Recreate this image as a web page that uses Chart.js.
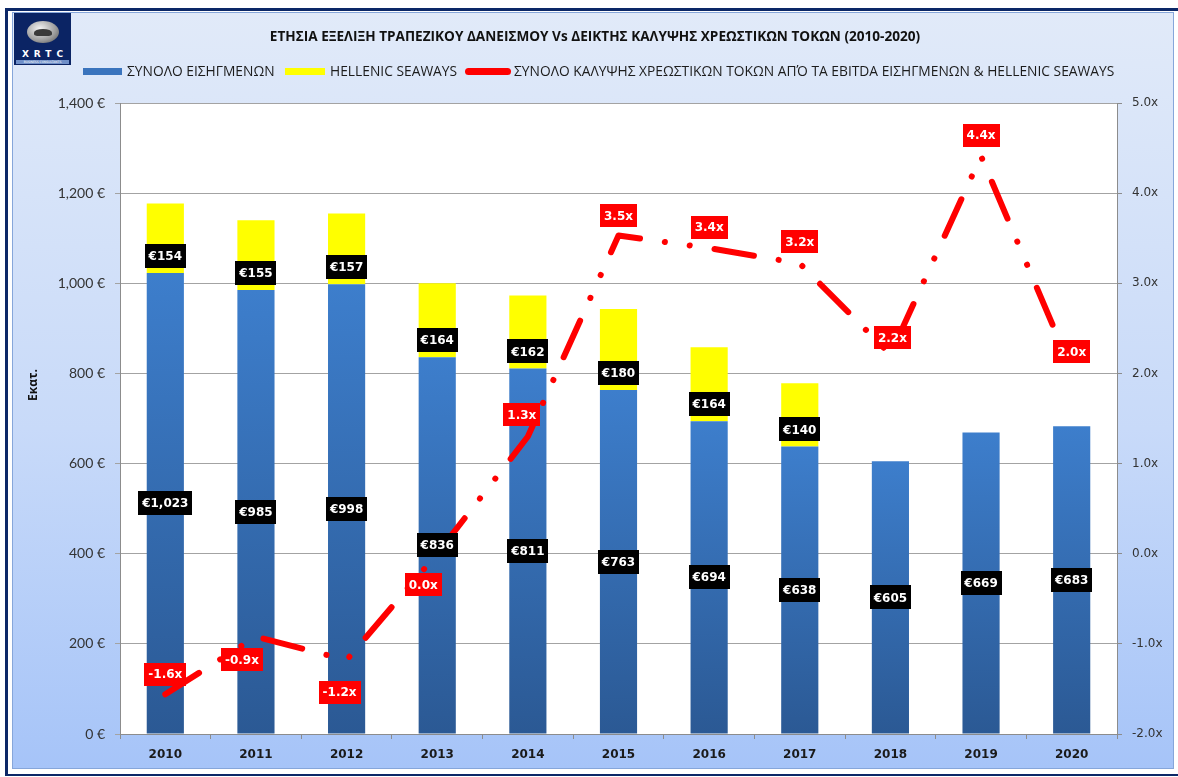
<!DOCTYPE html>
<html>
<head>
<meta charset="utf-8">
<script src="https://cdn.jsdelivr.net/npm/chart.js@4.4.1/dist/chart.umd.min.js"></script>
<style>
  body { margin: 0; width: 1178px; height: 777px; overflow: hidden; background: #fff; position: relative; font-family: "Open Sans", sans-serif; }
  #frame { position: absolute; left: 5px; top: 8px; width: 1173px; height: 768px; border-left: 3px solid #0c2867; border-top: 3px solid #0c2867; border-bottom: 2px solid #0c2867; box-sizing: border-box; }
  #panel { position: absolute; left: 12px; top: 12px; width: 1162px; height: 757px; border: 1px solid #86a6da; box-sizing: border-box;
           background: linear-gradient(#e1eaf9, #c8daf9 55%, #a6c4f8); }
  #chart { position: absolute; left: 0; top: 0; }
  #logo { position: absolute; left: 14px; top: 13px; width: 57px; height: 52px; background: #0b2464; }
  #logo .emb { position: absolute; left: 13px; top: 8px; width: 32px; height: 22px; border-radius: 50%;
               background: radial-gradient(ellipse at 40% 35%, #f4f4f4, #9a9a9a 60%, #4a4a4a); }
  #logo .emb:after { content: ""; position: absolute; left: 7px; top: 8px; width: 18px; height: 7px; border-radius: 50% 50% 30% 30%; background: #3a3a3a; }
  #logo .name { position: absolute; left: 0; top: 36px; width: 57px; text-align: center; color: #fff; font: bold 9px "DejaVu Sans", sans-serif; letter-spacing: 5px; text-indent: 5px; }
  #logo .sub { position: absolute; left: 2px; top: 47px; width: 53px; height: 4px; background: #6f8fc8; color: #fff; font: 3px "DejaVu Sans", sans-serif; text-align: center; line-height: 4px; overflow: hidden; }
  #title { position: absolute; left: 0; top: 26px; width: 1190px; text-align: center; font: bold 13.6px "Open Sans", sans-serif; color: #111; white-space: nowrap; }
  .leg { position: absolute; top: 61px; height: 20px; line-height: 20px; font: 13.8px "Open Sans", sans-serif; color: #1c1c1c; white-space: nowrap; }
  .sw { position: absolute; top: 68px; height: 7px; }
  #ytitle { position: absolute; left: 3px; top: 376px; width: 60px; height: 18px; line-height: 18px; text-align: center; font: bold 12px "Open Sans", sans-serif; color: #111; transform: rotate(-90deg); }
</style>
</head>
<body>
<div id="frame"></div>
<div id="panel"></div>
<canvas id="chart" width="1178" height="777"></canvas>
<div id="logo"><div class="emb"></div><div class="name">XRTC</div><div class="sub">BUSINESS CONSULTANTS</div></div>
<div id="title">ΕΤΗΣΙΑ ΕΞΕΛΙΞΗ ΤΡΑΠΕΖΙΚΟΥ ΔΑΝΕΙΣΜΟΥ Vs ΔΕΙΚΤΗΣ ΚΑΛΥΨΗΣ ΧΡΕΩΣΤΙΚΩΝ ΤΟΚΩΝ (2010-2020)</div>
<div class="sw" style="left:83px;width:39px;background:#3a74bd"></div>
<div class="leg" style="left:127px">ΣΥΝΟΛΟ ΕΙΣΗΓΜΕΝΩΝ</div>
<div class="sw" style="left:285px;width:40px;background:#ffff00"></div>
<div class="leg" style="left:330px">HELLENIC SEAWAYS</div>
<div class="sw" style="left:465px;width:46px;background:#ff0000;border-radius:4px"></div>
<div class="leg" style="left:514px">ΣΥΝΟΛΟ ΚΑΛΥΨΗΣ ΧΡΕΩΣΤΙΚΩΝ ΤΟΚΩΝ ΑΠΌ ΤΑ EBITDA ΕΙΣΗΓΜΕΝΩΝ &amp; HELLENIC SEAWAYS</div>
<div id="ytitle">Εκατ.</div>
<script>
  // values (EUR m, coverage ratio x)
  const years = ["2010", "2011", "2012", "2013", "2014", "2015", "2016", "2017", "2018", "2019", "2020"];
  const listedDebt = [1023, 985, 998, 836, 811, 763, 694, 638, 605, 669, 683];
  const hsDebt = [154, 155, 157, 164, 162, 180, 164, 140, null, null, null];
  const coverage = [-1.56, -0.92, -1.18, 0.0, 1.3, 3.53, 3.39, 3.22, 2.21, 4.41, 2.04];
  const leftTicks = [0, 200, 400, 600, 800, 1000, 1200, 1400];
  const rightTicks = [-2, -1, 0, 1, 2, 3, 4, 5];

  // where the red ratio labels sit relative to their point (px)
  const ratioLabelShift = [[0, -20], [-14, 23], [-7, 32], [-14, 31], [-6, -22], [0, -20], [0, -21], [0, -22], [2, -17], [0, -21], [0, -18]];

  const fmt = (v) => v.toLocaleString("en-US");

  function blueFill(ctx) {
    const chart = ctx.chart;
    if (!chart.chartArea || ctx.dataIndex === undefined) return "#3a74bd";
    const ys = chart.scales.y;
    const top = ys.getPixelForValue(listedDebt[ctx.dataIndex]);
    const g = chart.ctx.createLinearGradient(0, top, 0, ys.getPixelForValue(0));
    g.addColorStop(0, "#3d7ecc");
    g.addColorStop(1, "#2b5994");
    return g;
  }

  const plotBg = {
    id: "plotBg",
    beforeDraw(chart) {
      const { ctx, chartArea: a } = chart;
      ctx.save();
      ctx.fillStyle = "#fff";
      ctx.fillRect(a.left, a.top, a.right - a.left, a.bottom - a.top);
      ctx.restore();
    }
  };

  const labelBoxes = {
    id: "labelBoxes",
    afterDatasetsDraw(chart) {
      const ctx = chart.ctx;
      ctx.save();
      ctx.font = 'bold 12px "DejaVu Sans"';
      ctx.textAlign = "center";
      ctx.textBaseline = "middle";
      const box = (text, x, y, bg, h) => {
        const w = Math.round(ctx.measureText(text).width + 8);
        ctx.fillStyle = bg;
        ctx.fillRect(Math.round(x - w / 2), Math.round(y - h / 2), w, h);
        ctx.fillStyle = "#fff";
        ctx.fillText(text, x, y + 1);
      };
      chart.getDatasetMeta(0).data.forEach((el, i) => {
        box("€" + fmt(listedDebt[i]), el.x, (el.y + el.base) / 2, "#000", 24);
      });
      chart.getDatasetMeta(1).data.forEach((el, i) => {
        if (hsDebt[i] == null) return;
        box("€" + fmt(hsDebt[i]), el.x, el.base - 17, "#000", 24);
      });
      chart.getDatasetMeta(2).data.forEach((el, i) => {
        const [dx, dy] = ratioLabelShift[i];
        box(coverage[i].toFixed(1) + "x", el.x + dx, el.y + dy, "#ff0000", 23);
      });
      ctx.restore();
    }
  };

  new Chart(document.getElementById("chart"), {
    type: "bar",
    data: {
      labels: years,
      datasets: [
        { label: "ΣΥΝΟΛΟ ΕΙΣΗΓΜΕΝΩΝ", data: listedDebt, backgroundColor: blueFill, stack: "debt", order: 2 },
        { label: "HELLENIC SEAWAYS", data: hsDebt, backgroundColor: "#ffff00", stack: "debt", order: 2 },
        {
          type: "line", label: "ΣΥΝΟΛΟ ΚΑΛΥΨΗΣ", data: coverage, yAxisID: "y1", order: 1,
          borderColor: "#ff0000", borderWidth: 6, borderCapStyle: "round", borderJoinStyle: "round",
          borderDash: [40, 25, 0.1, 25, 0.1, 25], pointRadius: 0, tension: 0, fill: false
        }
      ]
    },
    options: {
      responsive: false,
      animation: false,
      devicePixelRatio: 1,
      layout: { padding: { top: 103, left: 0, right: 0, bottom: 0 } },
      datasets: { bar: { barPercentage: 0.41, categoryPercentage: 1 } },
      plugins: { legend: { display: false }, title: { display: false }, tooltip: { enabled: false } },
      scales: {
        x: {
          stacked: true,
          grid: { display: true, drawOnChartArea: false, drawTicks: true, tickLength: 5, color: "#8c8c8c", offset: true },
          border: { color: "#8c8c8c" },
          ticks: { font: { family: "DejaVu Sans", size: 12, weight: "bold" }, color: "#1a1a1a", padding: 9 },
          afterFit: (s) => { s.height = 43; }
        },
        y: {
          stacked: true, min: 0, max: 1400,
          afterBuildTicks: (s) => { s.ticks = leftTicks.map((v) => ({ value: v })); },
          ticks: { callback: (v) => fmt(v) + " €", font: { family: "Lato", size: 14 }, color: "#333", padding: 10 },
          grid: { color: "#a3a3a3", tickLength: 5 },
          border: { color: "#8c8c8c" },
          afterFit: (s) => { s.width = 120; }
        },
        y1: {
          position: "right", min: -2, max: 5,
          afterBuildTicks: (s) => { s.ticks = rightTicks.map((v) => ({ value: v })); },
          ticks: { callback: (v) => v.toFixed(1) + "x", font: { family: "DejaVu Sans", size: 12 }, color: "#333", padding: 10 },
          grid: { drawOnChartArea: false, color: "#8c8c8c", tickLength: 5 },
          border: { color: "#8c8c8c" },
          afterFit: (s) => { s.width = 61; }
        }
      }
    },
    plugins: [plotBg, labelBoxes]
  });
</script>
</body>
</html>
